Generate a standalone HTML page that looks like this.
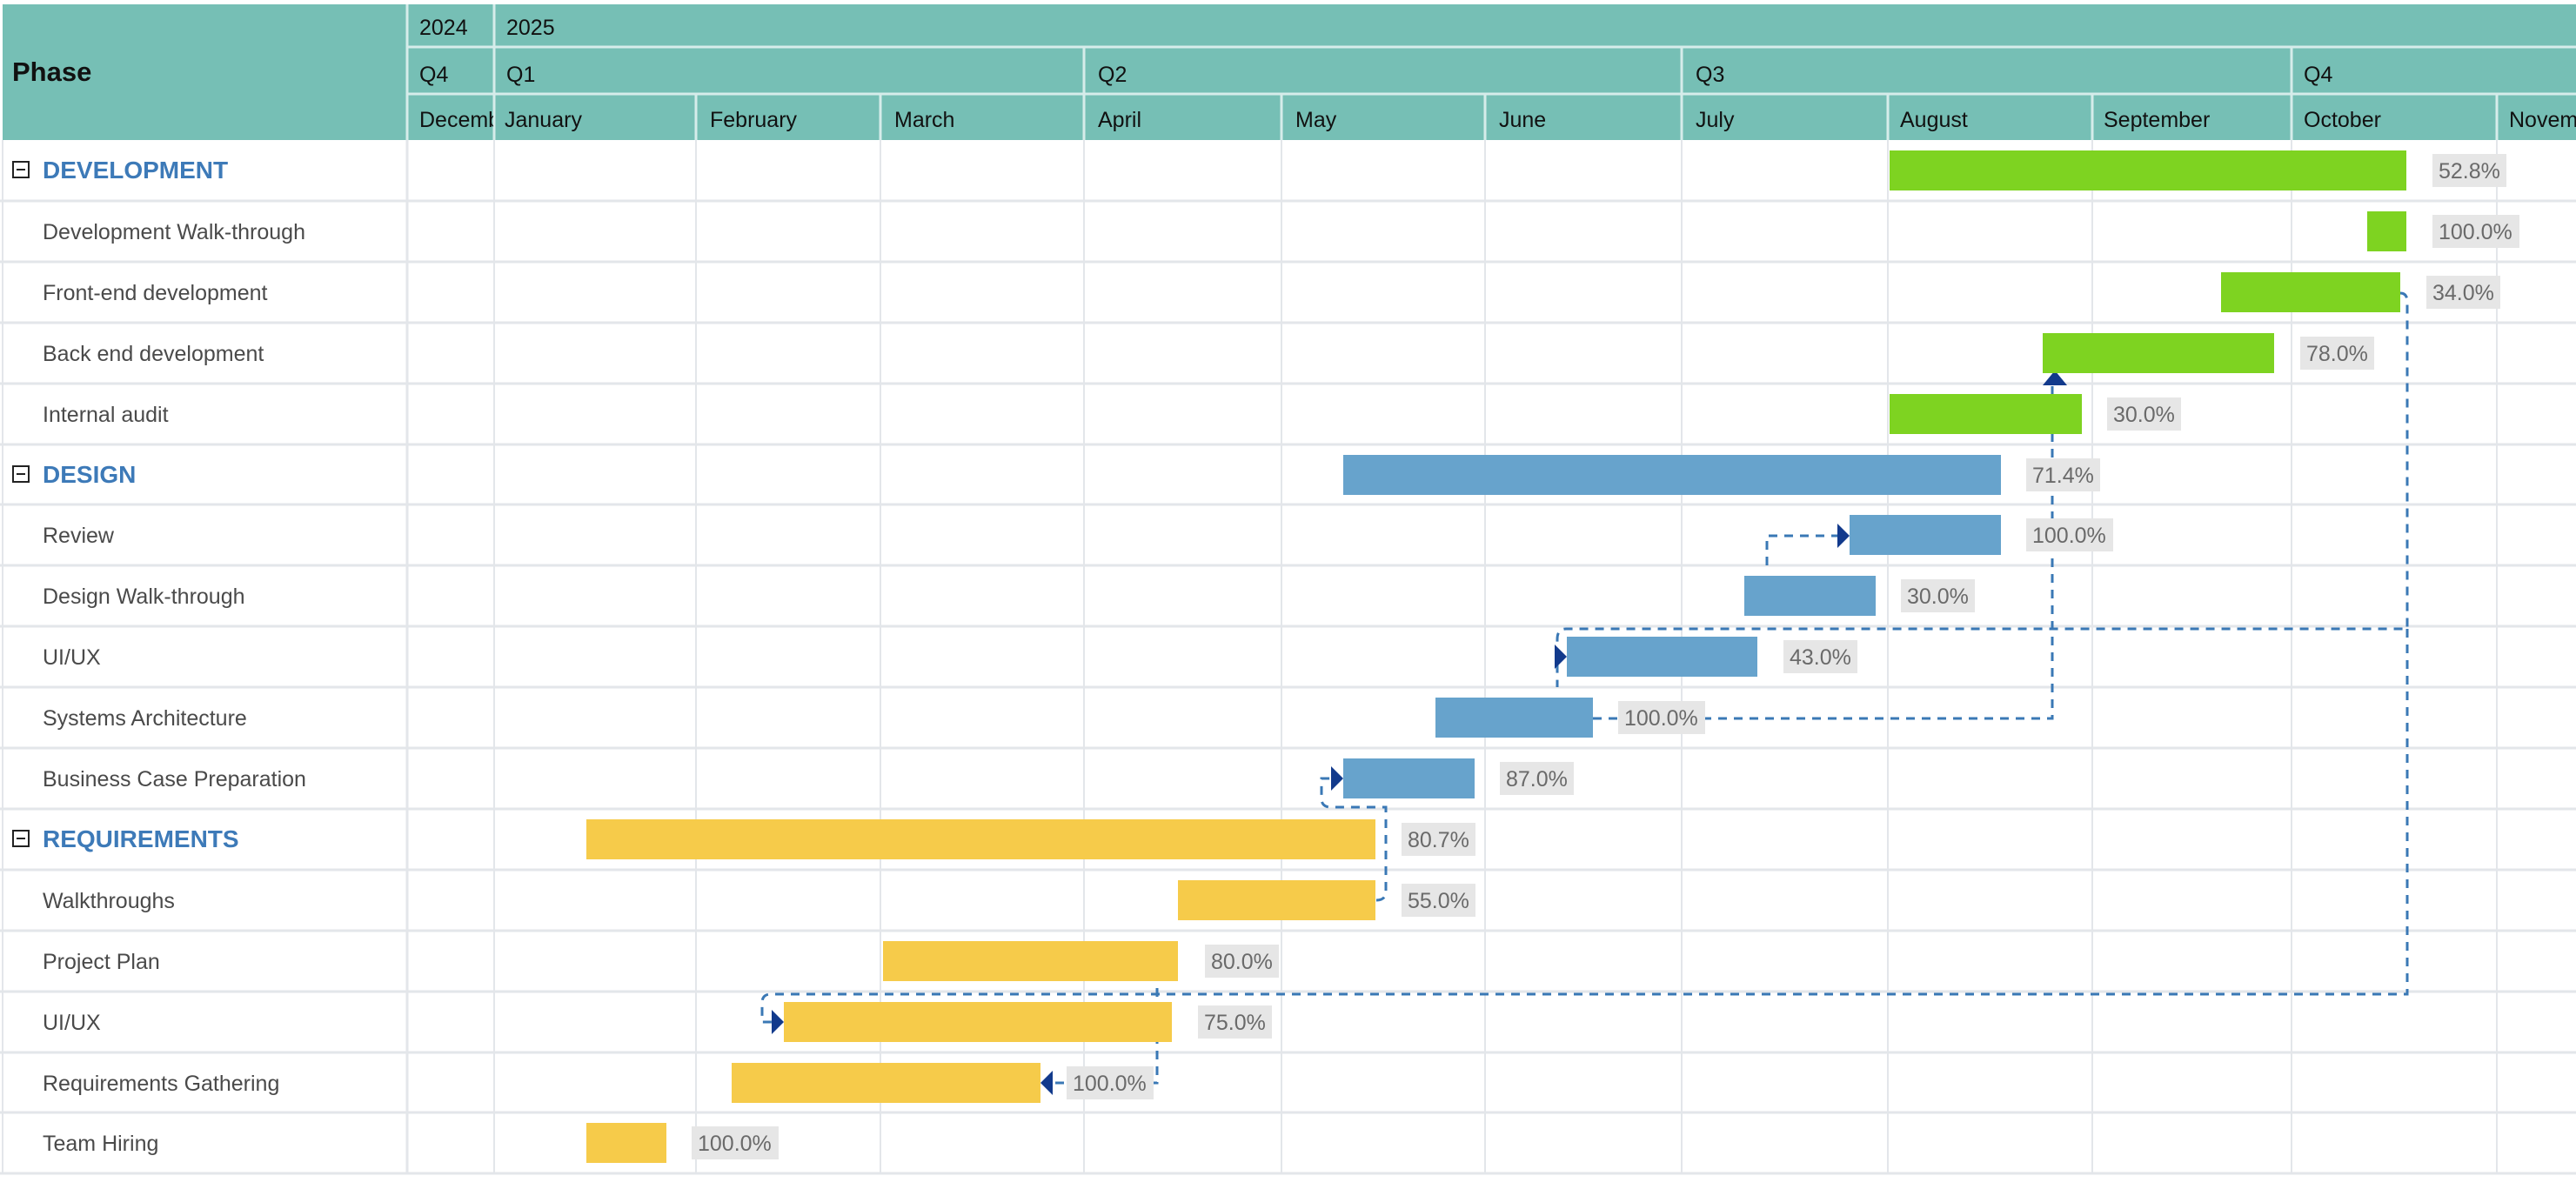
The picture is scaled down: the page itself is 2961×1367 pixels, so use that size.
<!DOCTYPE html>
<html><head><meta charset="utf-8"><style>
html,body{margin:0;padding:0;background:#fff;}
svg{display:block;font-family:"Liberation Sans",sans-serif;}
.h{font-size:25px;fill:#111;}
.t{font-size:25px;fill:#4a4a4a;}
.g{font-size:28px;fill:#3d7ab8;font-weight:bold;}
.l{font-size:25px;fill:#6a6a6a;}
.lb{fill:#e6e6e6;}
.dash{fill:none;stroke:#3a78b5;stroke-width:3;stroke-dasharray:10 8;}
.ar{fill:#123a8c;}
</style></head><body>
<svg width="2961" height="1367" viewBox="0 0 2961 1367" xmlns="http://www.w3.org/2000/svg">
<rect x="0" y="0" width="2961" height="1367" fill="#fff"/>
<rect x="3" y="5" width="2958" height="156" fill="#76bfb5"/>
<g stroke="#d6ecea" stroke-width="3">
<line x1="468" y1="54" x2="2961" y2="54"/>
<line x1="468" y1="108" x2="2961" y2="108"/>
<line x1="468" y1="5" x2="468" y2="161"/>
<line x1="568" y1="5" x2="568" y2="161"/>
<line x1="1246" y1="54" x2="1246" y2="161"/>
<line x1="1933" y1="54" x2="1933" y2="161"/>
<line x1="2634" y1="54" x2="2634" y2="161"/>
<line x1="800" y1="108" x2="800" y2="161"/>
<line x1="1012" y1="108" x2="1012" y2="161"/>
<line x1="1473" y1="108" x2="1473" y2="161"/>
<line x1="1707" y1="108" x2="1707" y2="161"/>
<line x1="2170" y1="108" x2="2170" y2="161"/>
<line x1="2405" y1="108" x2="2405" y2="161"/>
<line x1="2870" y1="108" x2="2870" y2="161"/>
</g>
<text x="14" y="93" style="font-size:31px;font-weight:bold;fill:#111">Phase</text>
<text class="h" x="482" y="40">2024</text>
<text class="h" x="582" y="40">2025</text>
<text class="h" x="482" y="94">Q4</text>
<text class="h" x="582" y="94">Q1</text>
<text class="h" x="1262" y="94">Q2</text>
<text class="h" x="1949" y="94">Q3</text>
<text class="h" x="2648" y="94">Q4</text>
<svg x="468" y="108" width="99" height="53"><text class="h" x="14" y="38">December</text></svg>
<text class="h" x="580" y="146">January</text>
<text class="h" x="816" y="146">February</text>
<text class="h" x="1028" y="146">March</text>
<text class="h" x="1262" y="146">April</text>
<text class="h" x="1489" y="146">May</text>
<text class="h" x="1723" y="146">June</text>
<text class="h" x="1949" y="146">July</text>
<text class="h" x="2184" y="146">August</text>
<text class="h" x="2418" y="146">September</text>
<text class="h" x="2648" y="146">October</text>
<svg x="2870" y="108" width="91" height="53"><text class="h" x="14" y="38">November</text></svg>
<g stroke="#e3e6ea" stroke-width="2">
<line x1="3" y1="161" x2="3" y2="1349"/>
<line x1="468" y1="161" x2="468" y2="1349" stroke-width="3"/>
<line x1="568" y1="161" x2="568" y2="1349"/>
<line x1="800" y1="161" x2="800" y2="1349"/>
<line x1="1012" y1="161" x2="1012" y2="1349"/>
<line x1="1246" y1="161" x2="1246" y2="1349"/>
<line x1="1473" y1="161" x2="1473" y2="1349"/>
<line x1="1707" y1="161" x2="1707" y2="1349"/>
<line x1="1933" y1="161" x2="1933" y2="1349"/>
<line x1="2170" y1="161" x2="2170" y2="1349"/>
<line x1="2405" y1="161" x2="2405" y2="1349"/>
<line x1="2634" y1="161" x2="2634" y2="1349"/>
<line x1="2870" y1="161" x2="2870" y2="1349"/>
</g>
<g stroke="#e3e6ea" stroke-width="3">
<line x1="0" y1="231" x2="2961" y2="231"/>
<line x1="0" y1="301" x2="2961" y2="301"/>
<line x1="0" y1="371" x2="2961" y2="371"/>
<line x1="0" y1="441" x2="2961" y2="441"/>
<line x1="0" y1="511" x2="2961" y2="511"/>
<line x1="0" y1="580" x2="2961" y2="580"/>
<line x1="0" y1="650" x2="2961" y2="650"/>
<line x1="0" y1="720" x2="2961" y2="720"/>
<line x1="0" y1="790" x2="2961" y2="790"/>
<line x1="0" y1="860" x2="2961" y2="860"/>
<line x1="0" y1="930" x2="2961" y2="930"/>
<line x1="0" y1="1000" x2="2961" y2="1000"/>
<line x1="0" y1="1070" x2="2961" y2="1070"/>
<line x1="0" y1="1140" x2="2961" y2="1140"/>
<line x1="0" y1="1210" x2="2961" y2="1210"/>
<line x1="0" y1="1279" x2="2961" y2="1279"/>
<line x1="0" y1="1349" x2="2961" y2="1349"/>
</g>
<g fill="none" stroke="#222" stroke-width="2">
<rect x="15" y="186" width="18" height="18"/><line x1="19" y1="195" x2="29" y2="195"/>
<rect x="15" y="536" width="18" height="18"/><line x1="19" y1="545" x2="29" y2="545"/>
<rect x="15" y="955" width="18" height="18"/><line x1="19" y1="964" x2="29" y2="964"/>
</g>
<text class="g" x="49" y="205">DEVELOPMENT</text>
<text class="t" x="49" y="275">Development Walk-through</text>
<text class="t" x="49" y="345">Front-end development</text>
<text class="t" x="49" y="415">Back end development</text>
<text class="t" x="49" y="485">Internal audit</text>
<text class="g" x="49" y="555">DESIGN</text>
<text class="t" x="49" y="624">Review</text>
<text class="t" x="49" y="694">Design Walk-through</text>
<text class="t" x="49" y="764">UI/UX</text>
<text class="t" x="49" y="834">Systems Architecture</text>
<text class="t" x="49" y="904">Business Case Preparation</text>
<text class="g" x="49" y="974">REQUIREMENTS</text>
<text class="t" x="49" y="1044">Walkthroughs</text>
<text class="t" x="49" y="1114">Project Plan</text>
<text class="t" x="49" y="1184">UI/UX</text>
<text class="t" x="49" y="1254">Requirements Gathering</text>
<text class="t" x="49" y="1323">Team Hiring</text>
<path class="dash" d="M2759 337 Q2767 337 2767 347 V723 H1800 Q1790 723 1790 735 V790"/>
<path class="dash" d="M2767 723 V1143 H886 Q876 1143 876 1153 V1175 H890"/>
<path class="dash" d="M1831 826 H2359 V443"/>
<path class="dash" d="M2031 650 V616 H2114"/>
<path class="dash" d="M1582 1035 Q1593 1035 1593 1025 V928 H1530 Q1519 928 1519 918 V895 H1534"/>
<path class="dash" d="M1330 1118 V1245 H1208"/>
<path class="ar" d="M2348 443 L2362 426 L2376 443 Z"/>
<path class="ar" d="M2112 602 L2126 616 L2112 630 Z"/>
<path class="ar" d="M1787 741 L1801 755 L1787 769 Z"/>
<path class="ar" d="M1530 881 L1544 895 L1530 909 Z"/>
<path class="ar" d="M887 1161 L901 1175 L887 1189 Z"/>
<path class="ar" d="M1210 1231 L1196 1245 L1210 1259 Z"/>
<g fill="#7ed321">
<rect x="2172" y="173" width="594" height="46"/>
<rect x="2721" y="243" width="45" height="46"/>
<rect x="2553" y="313" width="206" height="46"/>
<rect x="2348" y="383" width="266" height="46"/>
<rect x="2172" y="453" width="221" height="46"/>
</g>
<g fill="#67a3cc">
<rect x="1544" y="523" width="756" height="46"/>
<rect x="2126" y="592" width="174" height="46"/>
<rect x="2005" y="662" width="151" height="46"/>
<rect x="1801" y="732" width="219" height="46"/>
<rect x="1650" y="802" width="181" height="46"/>
<rect x="1544" y="872" width="151" height="46"/>
</g>
<g fill="#f6cb4a">
<rect x="674" y="942" width="907" height="46"/>
<rect x="1354" y="1012" width="227" height="46"/>
<rect x="1015" y="1082" width="339" height="46"/>
<rect x="901" y="1152" width="446" height="46"/>
<rect x="841" y="1222" width="355" height="46"/>
<rect x="674" y="1291" width="92" height="46"/>
</g>
<g>
<rect class="lb" x="2796" y="177" width="85" height="38"/><text class="l" x="2803" y="205">52.8%</text>
<rect class="lb" x="2796" y="247" width="100" height="38"/><text class="l" x="2803" y="275">100.0%</text>
<rect class="lb" x="2789" y="317" width="85" height="38"/><text class="l" x="2796" y="345">34.0%</text>
<rect class="lb" x="2644" y="387" width="85" height="38"/><text class="l" x="2651" y="415">78.0%</text>
<rect class="lb" x="2422" y="457" width="85" height="38"/><text class="l" x="2429" y="485">30.0%</text>
<rect class="lb" x="2329" y="527" width="85" height="38"/><text class="l" x="2336" y="555">71.4%</text>
<rect class="lb" x="2329" y="596" width="100" height="38"/><text class="l" x="2336" y="624">100.0%</text>
<rect class="lb" x="2185" y="666" width="85" height="38"/><text class="l" x="2192" y="694">30.0%</text>
<rect class="lb" x="2050" y="736" width="85" height="38"/><text class="l" x="2057" y="764">43.0%</text>
<rect class="lb" x="1860" y="806" width="100" height="38"/><text class="l" x="1867" y="834">100.0%</text>
<rect class="lb" x="1724" y="876" width="85" height="38"/><text class="l" x="1731" y="904">87.0%</text>
<rect class="lb" x="1611" y="946" width="85" height="38"/><text class="l" x="1618" y="974">80.7%</text>
<rect class="lb" x="1611" y="1016" width="85" height="38"/><text class="l" x="1618" y="1044">55.0%</text>
<rect class="lb" x="1385" y="1086" width="85" height="38"/><text class="l" x="1392" y="1114">80.0%</text>
<rect class="lb" x="1377" y="1156" width="85" height="38"/><text class="l" x="1384" y="1184">75.0%</text>
<rect class="lb" x="1226" y="1226" width="100" height="38"/><text class="l" x="1233" y="1254">100.0%</text>
<rect class="lb" x="795" y="1295" width="100" height="38"/><text class="l" x="802" y="1323">100.0%</text>
</g>
</svg>
</body></html>
